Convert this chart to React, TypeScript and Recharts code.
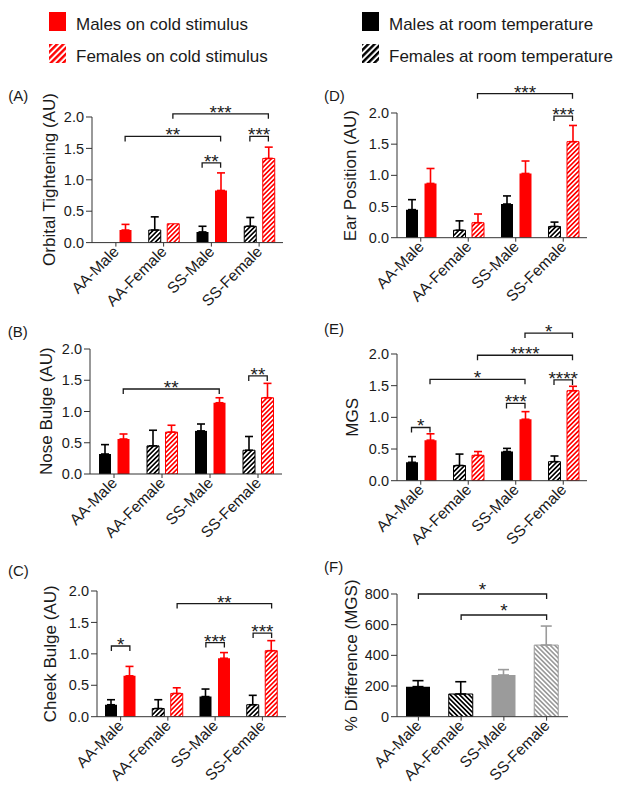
import React from "react";
import { BarChart, Bar, XAxis, YAxis, ErrorBar, Cell, ReferenceLine } from "recharts";

const groups = ["AA-Male", "AA-Female", "SS-Male", "SS-Female"];
const scoreTicks = [0, 0.5, 1, 1.5, 2];
const pctTicks = [0, 200, 400, 600, 800];

// (A) Orbital tightening
const orbitalRoom = [0, 0.2, 0.17, 0.26];
const orbitalRoomErr = [0, 0.21, 0.09, 0.14];
const orbitalCold = [0.2, 0.3, 0.83, 1.34];
const orbitalColdErr = [0.09, 0, 0.28, 0.18];

// (B) Nose bulge
const noseRoom = [0.32, 0.45, 0.69, 0.38];
const noseRoomErr = [0.15, 0.25, 0.11, 0.22];
const noseCold = [0.56, 0.67, 1.14, 1.22];
const noseColdErr = [0.08, 0.11, 0.08, 0.23];

// (C) Cheek bulge
const cheekRoom = [0.19, 0.13, 0.32, 0.19];
const cheekRoomErr = [0.08, 0.14, 0.12, 0.15];
const cheekCold = [0.65, 0.37, 0.93, 1.05];
const cheekColdErr = [0.15, 0.09, 0.09, 0.16];

// (D) Ear position
const earRoom = [0.45, 0.12, 0.54, 0.18];
const earRoomErr = [0.16, 0.15, 0.13, 0.07];
const earCold = [0.87, 0.24, 1.03, 1.54];
const earColdErr = [0.24, 0.14, 0.2, 0.26];

// (E) MGS
const mgsRoom = [0.29, 0.24, 0.46, 0.3];
const mgsRoomErr = [0.09, 0.18, 0.05, 0.09];
const mgsCold = [0.64, 0.4, 0.97, 1.42];
const mgsColdErr = [0.1, 0.06, 0.12, 0.07];

// (F) % difference in MGS
const pctDiff = [196, 148, 272, 467];
const pctDiffErr = [39, 80, 35, 124];

// significance brackets: [group, slot] with slot 0 = room temp, 1 = cold, 2 = single bar
const orbitalSig = [
  { from: [0, 1], to: [2, 1], y: 1.69, text: "**" },
  { from: [1, 1], to: [3, 1], y: 2.05, text: "***" },
  { from: [2, 0], to: [2, 1], y: 1.27, text: "**" },
  { from: [3, 0], to: [3, 1], y: 1.69, text: "***" },
];
const noseSig = [
  { from: [0, 1], to: [2, 1], y: 1.36, text: "**" },
  { from: [3, 0], to: [3, 1], y: 1.57, text: "**" },
];
const cheekSig = [
  { from: [0, 0], to: [0, 1], y: 1.125, text: "*" },
  { from: [2, 0], to: [2, 1], y: 1.18, text: "***" },
  { from: [3, 0], to: [3, 1], y: 1.33, text: "***" },
  { from: [1, 1], to: [3, 1], y: 1.8, text: "**" },
];
const earSig = [
  { from: [1, 1], to: [3, 1], y: 2.31, text: "***" },
  { from: [3, 0], to: [3, 1], y: 1.95, text: "***" },
];
const mgsSig = [
  { from: [0, 0], to: [0, 1], y: 0.84, text: "*" },
  { from: [0, 1], to: [2, 1], y: 1.6, text: "*" },
  { from: [2, 0], to: [2, 1], y: 1.22, text: "***" },
  { from: [3, 0], to: [3, 1], y: 1.59, text: "****" },
  { from: [1, 1], to: [3, 1], y: 1.98, text: "****" },
  { from: [2, 1], to: [3, 1], y: 2.33, text: "*" },
];
const pctSig = [
  { from: [0, 2], to: [3, 2], y: 800, text: "*" },
  { from: [1, 2], to: [3, 2], y: 663, text: "*" },
];

const legendCold = ["Males on cold stimulus", "Females on cold stimulus"];
const legendRoom = ["Males at room temperature", "Females at room temperature"];

const AXIS = "#333";
const INK = "#1a1a1a";
const RED = "#f00";
const GREY = "#9b9b9b";
const ML = 80;
const MR = 12;
const MT = 50;
const MB = 80;
const BAR = 12;
const GAP = 6.5;

const RotTick = (p: any) => (
  <g transform={`translate(${p.x + 4},${p.y + 4}) rotate(-45)`}>
    <text x={0} y={0} textAnchor="end" fontSize={15.5} fill={INK}>
      {p.payload.value}
    </text>
  </g>
);

// bracket drawn at the pixel ends the ReferenceLine gives, shifted to the bar in the pair
const bracketShape = (s: any, half: number, starDy: number) => (p: any) => {
  const shift = (slot: number) => (slot === 0 ? -half : slot === 1 ? half : 0);
  const xa = p.x1 + shift(s.from[1]);
  const xb = p.x2 + shift(s.to[1]);
  const y = p.y1;
  return (
    <g>
      <path d={`M${xa},${y + 5}V${y}H${xb}V${y + 5}`} fill="none" stroke={INK} strokeWidth={1.3} />
      <text x={(xa + xb) / 2} y={y + starDy} textAnchor="middle" fontSize={19} fill={INK}>
        {s.text}
      </text>
    </g>
  );
};

const sigLines = (sig: any[], half: number, starDy: number) =>
  sig.map((s, i) => (
    <ReferenceLine
      key={i}
      ifOverflow="visible"
      segment={[
        { x: groups[s.from[0]], y: s.y },
        { x: groups[s.to[0]], y: s.y },
      ]}
      shape={bracketShape(s, half, starDy)}
    />
  ));

function ScorePanel({ box, room, roomErr, cold, coldErr, sig }: any) {
  const w = box.right - box.left;
  const h = box.bottom - box.top;
  const rows = groups.map((g, i) => ({
    group: g,
    room: room[i],
    cold: cold[i],
    roomErr: roomErr[i] ? [0, roomErr[i]] : undefined,
    coldErr: coldErr[i] ? [0, coldErr[i]] : undefined,
  }));

  return (
    <div style={{ position: "absolute", left: box.left - ML, top: box.top - MT }}>
      <BarChart
        width={ML + w + MR}
        height={MT + h + MB}
        data={rows}
        margin={{ top: MT, right: MR, bottom: 0, left: 0 }}
        barSize={BAR}
        barGap={GAP}
      >
        <XAxis dataKey="group" height={MB} interval={0} tickSize={4} tickMargin={2} tick={RotTick} stroke={AXIS} />
        <YAxis
          width={ML}
          domain={[0, 2]}
          ticks={scoreTicks}
          interval={0}
          allowDataOverflow
          tickFormatter={(v: number) => v.toFixed(1)}
          tickSize={6}
          tickMargin={2}
          stroke={AXIS}
          tick={{ fontSize: 14.5, fill: INK }}
        />
        <Bar dataKey="room" isAnimationActive={false}>
          {rows.map((_, i) => (
            <Cell key={i} fill={i % 2 ? "url(#hatchBlack)" : "#000"} stroke={i % 2 ? "#000" : "none"} strokeWidth={1} />
          ))}
          <ErrorBar dataKey="roomErr" direction="y" width={4} stroke="#000" strokeWidth={1.6} isAnimationActive={false} />
        </Bar>
        <Bar dataKey="cold" isAnimationActive={false}>
          {rows.map((_, i) => (
            <Cell key={i} fill={i % 2 ? "url(#hatchRed)" : RED} stroke={i % 2 ? RED : "none"} strokeWidth={1} />
          ))}
          <ErrorBar dataKey="coldErr" direction="y" width={4} stroke={RED} strokeWidth={1.6} isAnimationActive={false} />
        </Bar>
        {sigLines(sig, (BAR + GAP) / 2, 5)}
      </BarChart>
    </div>
  );
}

function PctPanel({ box }: any) {
  const w = box.right - box.left;
  const h = box.bottom - box.top;
  const fills = ["#000", "url(#hatchBlackF)", GREY, "url(#hatchGreyF)"];
  const strokes = ["none", "#000", "none", GREY];
  const rows = groups.map((g, i) => ({
    group: g,
    pct: pctDiff[i],
    errDark: i < 2 ? [0, pctDiffErr[i]] : undefined,
    errLight: i >= 2 ? [0, pctDiffErr[i]] : undefined,
  }));

  return (
    <div style={{ position: "absolute", left: box.left - ML, top: box.top - MT }}>
      <BarChart
        width={ML + w + MR}
        height={MT + h + MB}
        data={rows}
        margin={{ top: MT, right: MR, bottom: 0, left: 0 }}
        barSize={24}
      >
        <XAxis dataKey="group" height={MB} interval={0} tickSize={4} tickMargin={2} tick={RotTick} stroke={AXIS} />
        <YAxis
          width={ML}
          domain={[0, 800]}
          ticks={pctTicks}
          interval={0}
          allowDataOverflow
          tickSize={6}
          tickMargin={2}
          stroke={AXIS}
          tick={{ fontSize: 14.5, fill: INK }}
        />
        <Bar dataKey="pct" isAnimationActive={false}>
          {rows.map((_, i) => (
            <Cell key={i} fill={fills[i]} stroke={strokes[i]} strokeWidth={1} />
          ))}
          <ErrorBar dataKey="errDark" direction="y" width={5.5} stroke="#000" strokeWidth={1.6} isAnimationActive={false} />
          <ErrorBar dataKey="errLight" direction="y" width={5.5} stroke={GREY} strokeWidth={1.6} isAnimationActive={false} />
        </Bar>
        {sigLines(pctSig, 0, 2)}
      </BarChart>
    </div>
  );
}

const Hatch = ({ id, color, angle, size, ratio = 0.5 }: any) => (
  <pattern id={id} patternUnits="userSpaceOnUse" width={size} height={size} patternTransform={`rotate(${angle})`}>
    <rect width={size} height={size} fill="#fff" />
    <rect width={size * ratio} height={size} fill={color} />
  </pattern>
);

const boxA = { left: 92, right: 283, top: 116.7, bottom: 242.3 };
const boxB = { left: 90, right: 282, top: 348.7, bottom: 473.7 };
const boxC = { left: 97, right: 286, top: 591, bottom: 716.7 };
const boxD = { left: 397, right: 587, top: 113.3, bottom: 238 };
const boxE = { left: 397, right: 587, top: 354, bottom: 480.7 };
const boxF = { left: 397, right: 568, top: 594, bottom: 716.7 };

const yLabels = [
  { text: "Orbital Tightening (AU)", x: 49, box: boxA },
  { text: "Nose Bulge (AU)", x: 46.5, box: boxB },
  { text: "Cheek Bulge (AU)", x: 50, box: boxC },
  { text: "Ear Position (AU)", x: 350, box: boxD },
  { text: "MGS", x: 352, box: boxE },
  { text: "% Difference (MGS)", x: 350.6, box: boxF },
];

const panelTags = [
  { text: "(A)", x: 8.3, y: 101 },
  { text: "(D)", x: 324, y: 101 },
  { text: "(B)", x: 7.7, y: 337 },
  { text: "(E)", x: 324, y: 334 },
  { text: "(C)", x: 8, y: 576 },
  { text: "(F)", x: 324, y: 572 },
];

export default function App() {
  return (
    <div
      style={{
        position: "absolute",
        left: 0,
        top: 0,
        width: 618,
        height: 802,
        background: "#fff",
        overflow: "hidden",
        fontFamily: "'Liberation Sans', Arial, sans-serif",
      }}
    >
      <svg width={618} height={802} style={{ position: "absolute", left: 0, top: 0 }}>
        <defs>
          <Hatch id="hatchRed" color={RED} angle={45} size={3.3} />
          <Hatch id="hatchBlack" color="#000" angle={45} size={3.3} />
          <Hatch id="hatchBlackF" color="#000" angle={-45} size={3.3} />
          <Hatch id="hatchGreyF" color={GREY} angle={-45} size={3.3} />
          <Hatch id="legRed" color={RED} angle={45} size={4.4} ratio={0.55} />
          <Hatch id="legBlack" color="#000" angle={45} size={4.4} ratio={0.55} />
        </defs>

        <rect x={49} y={12} width={17} height={19} fill={RED} />
        <rect x={49} y={44} width={17} height={19} fill="url(#legRed)" />
        <rect x={362} y={12} width={17} height={19} fill="#000" />
        <rect x={362} y={44} width={17} height={19} fill="url(#legBlack)" />
        {legendCold.map((t, i) => (
          <text key={t} x={76} y={30 + i * 32} fontSize={17} fill={INK}>
            {t}
          </text>
        ))}
        {legendRoom.map((t, i) => (
          <text key={t} x={389} y={30 + i * 32} fontSize={17} fill={INK}>
            {t}
          </text>
        ))}

        {panelTags.map((p) => (
          <text key={p.text} x={p.x} y={p.y} fontSize={15} fill={INK}>
            {p.text}
          </text>
        ))}

        {yLabels.map((l) => (
          <text
            key={l.text}
            transform={`translate(${l.x},${(l.box.top + l.box.bottom) / 2}) rotate(-90)`}
            textAnchor="middle"
            dy="0.35em"
            fontSize={17}
            fill={INK}
          >
            {l.text}
          </text>
        ))}
      </svg>

      <ScorePanel box={boxA} room={orbitalRoom} roomErr={orbitalRoomErr} cold={orbitalCold} coldErr={orbitalColdErr} sig={orbitalSig} />
      <ScorePanel box={boxB} room={noseRoom} roomErr={noseRoomErr} cold={noseCold} coldErr={noseColdErr} sig={noseSig} />
      <ScorePanel box={boxC} room={cheekRoom} roomErr={cheekRoomErr} cold={cheekCold} coldErr={cheekColdErr} sig={cheekSig} />
      <ScorePanel box={boxD} room={earRoom} roomErr={earRoomErr} cold={earCold} coldErr={earColdErr} sig={earSig} />
      <ScorePanel box={boxE} room={mgsRoom} roomErr={mgsRoomErr} cold={mgsCold} coldErr={mgsColdErr} sig={mgsSig} />
      <PctPanel box={boxF} />
    </div>
  );
}
